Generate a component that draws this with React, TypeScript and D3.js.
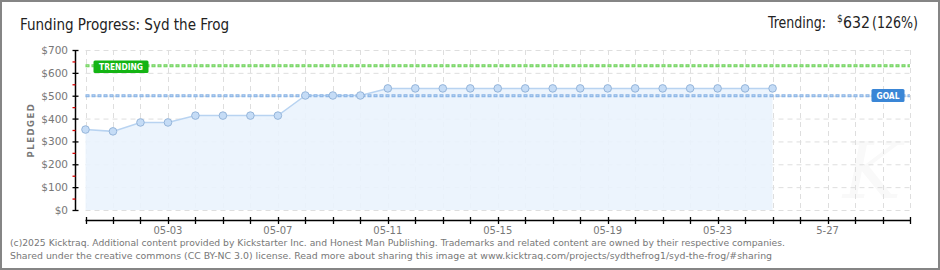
import React from "react";
import * as d3 from "d3";

const dates = [
  "2025-04-30", "2025-05-01", "2025-05-02", "2025-05-03", "2025-05-04", "2025-05-05",
  "2025-05-06", "2025-05-07", "2025-05-08", "2025-05-09", "2025-05-10", "2025-05-11",
  "2025-05-12", "2025-05-13", "2025-05-14", "2025-05-15", "2025-05-16", "2025-05-17",
  "2025-05-18", "2025-05-19", "2025-05-20", "2025-05-21", "2025-05-22", "2025-05-23",
  "2025-05-24", "2025-05-25",
];
const pledged = [
  352, 344, 383, 383, 413, 413, 413, 413, 501, 501, 501, 532,
  532, 532, 532, 532, 532, 532, 532, 532, 532, 532, 532, 532, 532, 532,
];
const domainDates = ["2025-04-30", "2025-05-30"];
const xTickLabelDates = ["2025-05-03", "2025-05-07", "2025-05-11", "2025-05-15", "2025-05-19", "2025-05-23", "2025-05-27"];
const xTickLabels = ["05-03", "05-07", "05-11", "05-15", "05-19", "05-23", "5-27"];
const yTicks = [0, 100, 200, 300, 400, 500, 600, 700];
const yMinorTicks = [50, 150, 250, 350, 450, 550, 650];
const goal = 500;
const trending = 632;
const titleText = "Funding Progress: Syd the Frog";
const trendingText = "Trending:";
const trendingValue = "632";
const trendingPct = "(126%)";
const footer1 = "(c)2025 Kicktraq. Additional content provided by Kickstarter Inc. and Honest Man Publishing. Trademarks and related content are owned by their respective companies.";
const footer2 = "Shared under the creative commons (CC BY-NC 3.0) license. Read more about sharing this image at www.kicktraq.com/projects/sydthefrog1/syd-the-frog/#sharing";

const parse = d3.utcParse("%Y-%m-%d");

export default function App() {
  const W = 940, H = 270;
  const x = d3.scaleUtc().domain(domainDates.map((d) => parse(d)!)).range([85.5, 910]);
  const y = d3.scaleLinear().domain([0, 700]).range([210, 50]);
  const pts = dates.map((d, i) => ({ d: parse(d)!, v: pledged[i] }));
  const allDays = d3.utcDay.range(x.domain()[0], d3.utcDay.offset(x.domain()[1], 1));
  const area = d3.area<{ d: Date; v: number }>().x((p) => x(p.d)).y0(y(0)).y1((p) => y(p.v));
  const line = d3.line<{ d: Date; v: number }>().x((p) => x(p.d)).y((p) => y(p.v));
  const font = "'DejaVu Sans Condensed', 'DejaVu Sans', sans-serif";
  const fontV = "'DejaVu Sans', Verdana, sans-serif";
  const [x0, x1] = x.range();

  const dotted = (yy: number, outer: string, inner: string, key: string) => (
    <g key={key}>
      <line x1={x0} x2={x1} y1={yy} y2={yy} stroke={outer} strokeWidth={3} strokeDasharray="4,2" />
      <line x1={x0} x2={x1} y1={yy} y2={yy} stroke={inner} strokeWidth={1} strokeDasharray="0,1,2,3" />
    </g>
  );

  return (
    <svg width={W} height={H} style={{ position: "absolute", left: 0, top: 0 }} xmlns="http://www.w3.org/2000/svg">
      <rect x={0} y={0} width={W} height={H} fill="#fff" />
      <rect x={1} y={1} width={W - 2} height={H - 2} fill="none" stroke="#858585" strokeWidth={2} />
      {/* watermark */}
      <text x={872} y={198} textAnchor="middle" fontFamily="'DejaVu Serif', serif" fontStyle="italic" fontSize={78} fill="#f9f9f9">K</text>
      {/* grid */}
      <g stroke="#dedede" strokeWidth={1} strokeDasharray="5,4">
        {yTicks.map((t) => (
          <line key={"h" + t} x1={x0} x2={x1} y1={y(t) + 0.5} y2={y(t) + 0.5} />
        ))}
        {allDays.map((d, i) => (
          <line key={"v" + i} x1={Math.round(x(d)) + 0.5} x2={Math.round(x(d)) + 0.5} y1={y(700)} y2={y(0)} />
        ))}
      </g>
      {/* area + line */}
      <path d={area(pts)!} fill="#eaf3fd" fillOpacity={0.9} />
      <path d={line(pts)!} fill="none" stroke="#b8d3f1" strokeWidth={1.5} />
      {dotted(y(trending) + 0.3, "#6dd25a", "#b2eaa5", "tr")}
      {dotted(y(goal), "#88b3e5", "#bcd5f2", "gl")}
      {/* points */}
      {pts.map((p, i) => (
        <circle key={i} cx={x(p.d)} cy={y(p.v)} r={3.8} fill="#c5dcf6" stroke="#95b5da" strokeWidth={1} />
      ))}
      {/* labels */}
      <rect x={93.5} y={y(trending) - 5} width={55} height={12.5} rx={1.5} fill="#14b414" />
      <text x={121} y={y(trending) + 4.3} textAnchor="middle" fontFamily={fontV} fontWeight="bold" fontSize={8.5} fill="#fff" textLength={44} lengthAdjust="spacingAndGlyphs">TRENDING</text>
      <rect x={871.5} y={y(goal) - 6.7} width={33} height={13} rx={1.5} fill="#3a86d6" />
      <text x={888} y={y(goal) + 3.6} textAnchor="middle" fontFamily={fontV} fontWeight="bold" fontSize={8.5} fill="#fff" textLength={23} lengthAdjust="spacingAndGlyphs">GOAL</text>
      {/* y axis */}
      <line x1={75.5} x2={75.5} y1={y(700)} y2={y(0)} stroke="#000" strokeWidth={1.5} />
      {yTicks.map((t) => (
        <g key={"yt" + t}>
          <line x1={72.5} x2={78.5} y1={y(t) + 0.5} y2={y(t) + 0.5} stroke="#000" strokeWidth={1.3} />
          <text x={68} y={y(t) + 4} textAnchor="end" fontFamily={fontV} fontSize={10.5} fill="#777">{"$" + t}</text>
        </g>
      ))}
      {yMinorTicks.map((t) => (
        <line key={"ym" + t} x1={72.5} x2={75.5} y1={y(t) + 0.5} y2={y(t) + 0.5} stroke="#dd0000" strokeWidth={1.3} />
      ))}
      <text transform={`translate(34,130) rotate(-90)`} textAnchor="middle" fontFamily={fontV} fontWeight="bold" fontSize={8.5} fill="#777" letterSpacing={1.5}>PLEDGED</text>
      {/* x axis */}
      <line x1={x0} x2={x1} y1={220.5} y2={220.5} stroke="#000" strokeWidth={1.5} />
      {allDays.map((d, i) => (
        <line key={"xt" + i} x1={Math.round(x(d)) + 0.5} x2={Math.round(x(d)) + 0.5} y1={217} y2={224} stroke="#000" strokeWidth={1.3} />
      ))}
      {xTickLabelDates.map((d, i) => (
        <text key={"xl" + i} x={x(parse(d)!)} y={233.5} textAnchor="middle" fontFamily={fontV} fontSize={10} fill="#777">{xTickLabels[i]}</text>
      ))}
      {/* titles */}
      <text x={20} y={30} fontFamily={font} fontSize={16} fill="#222" textLength={209} lengthAdjust="spacingAndGlyphs">{titleText}</text>
      <text x={768} y={28} fontFamily={font} fontSize={16} fill="#222" textLength={58} lengthAdjust="spacingAndGlyphs">{trendingText}</text>
      <text x={837} y={22} fontFamily={font} fontSize={10} fill="#222">$</text>
      <text x={843} y={28} fontFamily={font} fontSize={16} fill="#222" textLength={27} lengthAdjust="spacingAndGlyphs">{trendingValue}</text>
      <text x={872} y={28} fontFamily={font} fontSize={16} fill="#222" textLength={46} lengthAdjust="spacingAndGlyphs">{trendingPct}</text>
      {/* footer */}
      <text x={10} y={246} fontFamily={fontV} fontSize={9.5} fill="#777" textLength={775} lengthAdjust="spacingAndGlyphs">{footer1}</text>
      <text x={10} y={259} fontFamily={fontV} fontSize={9.5} fill="#777" textLength={762} lengthAdjust="spacingAndGlyphs">{footer2}</text>
    </svg>
  );
}
